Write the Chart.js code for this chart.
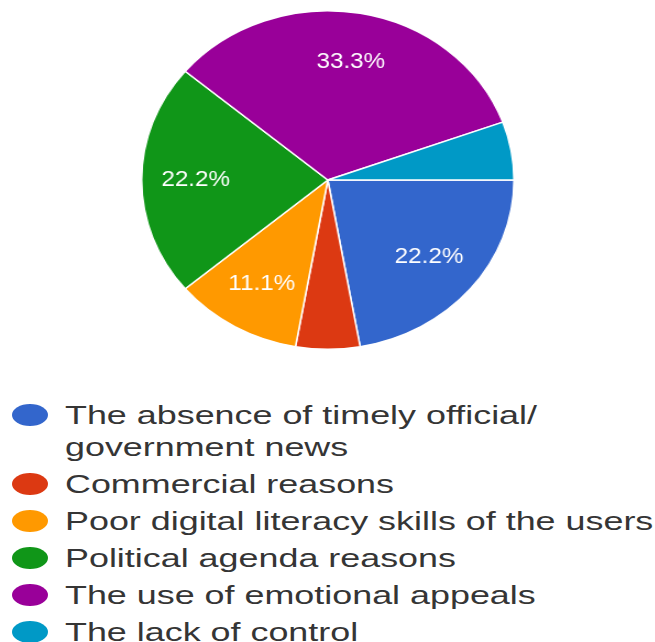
<!DOCTYPE html>
<html>
<head>
<meta charset="utf-8">
<script src="https://cdn.jsdelivr.net/npm/chart.js@4"></script>
<style>
  html, body { margin: 0; padding: 0; background: #fff; }
  body { width: 655px; height: 642px; position: relative; overflow: hidden; font-family: Arial, "Liberation Sans", sans-serif; }
  #pieWrap { position: absolute; left: 0; top: 0; width: 596px; height: 360px; transform: scaleX(1.1); transform-origin: 0 0; }
  #legend { position: absolute; left: 0; top: 399px; width: 655px; }
  .item { position: relative; margin-bottom: 5px; }
  .dot { position: absolute; left: 12px; top: 5px; width: 36px; height: 22px; border-radius: 50%; }
  .txt { margin-left: 65px; width: 440px; font-size: 26px; line-height: 32px; color: #353535;
         transform: scaleX(1.38); transform-origin: 0 0; }
</style>
</head>
<body>
<div id="pieWrap"><canvas id="myPie" width="596" height="360"></canvas></div>
<div id="legend"></div>
<script>
const categories = [
    'The absence of timely official/ government news',
    'Commercial reasons',
    'Poor digital literacy skills of the users',
    'Political agenda reasons',
    'The use of emotional appeals',
    'The lack of control'
];
const responses = [4, 1, 2, 4, 6, 1];
const colors = ['#3366cc', '#dc3912', '#ff9900', '#109618', '#990099', '#0099c6'];

const total = responses.reduce((a, b) => a + b, 0);

// white percentage text inside the bigger slices
const sliceLabels = {
    id: 'sliceLabels',
    afterDatasetsDraw(c) {
        const ctx = c.ctx;
        ctx.save();
        ctx.fillStyle = '#fff';
        ctx.font = '22px Arial, "Liberation Sans", sans-serif';
        ctx.textAlign = 'center';
        ctx.textBaseline = 'middle';
        c.getDatasetMeta(0).data.forEach(function(arc, i) {
            var share = responses[i] / total;
            if (share < 0.1) return;
            var p = arc.getProps(['x', 'y', 'startAngle', 'endAngle', 'outerRadius'], true);
            var mid = (p.startAngle + p.endAngle) / 2;
            var r = p.outerRadius * 0.71;
            ctx.fillText((share * 100).toFixed(1) + '%', p.x + Math.cos(mid) * r, p.y + Math.sin(mid) * r);
        });
        ctx.restore();
    }
};

var pie = new Chart(document.getElementById('myPie').getContext('2d'), {
    type: 'pie',
    data: {
        labels: categories,
        datasets: [{
            data: responses,
            backgroundColor: colors,
            borderColor: '#fff',
            borderWidth: 1.5
        }]
    },
    options: {
        responsive: false,
        animation: false,
        rotation: 90,
        layout: { padding: { top: 10, bottom: 10 } },
        plugins: {
            legend: { display: false },
            tooltip: { enabled: false }
        }
    },
    plugins: [sliceLabels]
});

// legend list under the pie
var htm = '';
for (var i = 0; i < categories.length; i++) {
    htm += '<div class="item"><span class="dot" style="background:' + colors[i] + '"></span>' +
           '<div class="txt">' + categories[i] + '</div></div>';
}
document.getElementById('legend').innerHTML = htm;
</script>
</body>
</html>
